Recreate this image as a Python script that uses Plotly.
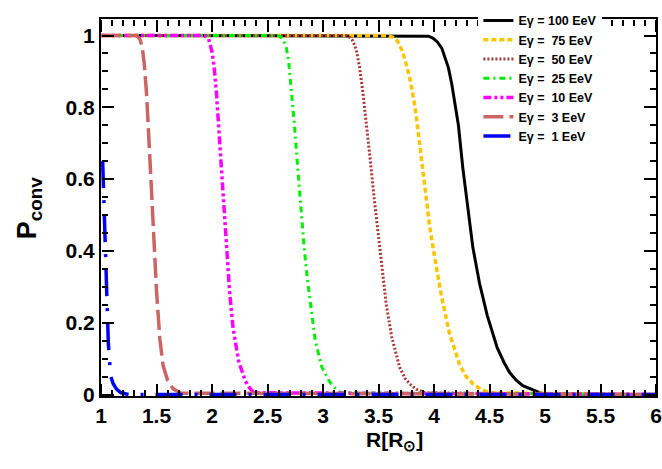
import plotly.graph_objects as go

# ---- data ----
labels = ["Eγ = 100 EeV", "Eγ =\u00a0 75 EeV", "Eγ =\u00a0 50 EeV", "Eγ =\u00a0 25 EeV",
          "Eγ =\u00a0 10 EeV", "Eγ =\u00a0 3 EeV", "Eγ =\u00a0 1 EeV"]

r_100 = [1.0, 3.90, 3.95, 3.99, 4.03, 4.07, 4.10, 4.13, 4.16, 4.19, 4.22, 4.26, 4.31, 4.35, 4.41, 4.48, 4.57, 4.63, 4.68, 4.74, 4.80, 4.87, 4.93, 5.0, 6.0]
p_100 = [1.0, 1.0, 0.998, 0.993, 0.982, 0.965, 0.94, 0.91, 0.865, 0.81, 0.75, 0.63, 0.50, 0.41, 0.31, 0.22, 0.13, 0.09, 0.062, 0.04, 0.025, 0.015, 0.008, 0.0, 0.0]

r_75 = [1.0, 3.58, 3.63, 3.67, 3.71, 3.75, 3.79, 3.83, 3.87, 3.92, 3.96, 4.01, 4.07, 4.14, 4.23, 4.29, 4.35, 4.42, 4.50, 6.0]
p_75 = [1.0, 1.0, 0.995, 0.985, 0.96, 0.92, 0.87, 0.80, 0.70, 0.58, 0.47, 0.375, 0.27, 0.17, 0.084, 0.05, 0.03, 0.015, 0.005, 0.0]

r_50 = [1.0, 3.20, 3.24, 3.27, 3.30, 3.33, 3.36, 3.39, 3.42, 3.46, 3.50, 3.53, 3.57, 3.62, 3.69, 3.74, 3.78, 3.84, 3.92, 6.0]
p_50 = [1.0, 1.0, 0.995, 0.985, 0.96, 0.91, 0.84, 0.76, 0.67, 0.55, 0.445, 0.35, 0.25, 0.16, 0.076, 0.045, 0.03, 0.015, 0.005, 0.0]

r_25 = [1.0, 2.60, 2.64, 2.67, 2.69, 2.71, 2.74, 2.77, 2.80, 2.83, 2.86, 2.89, 2.93, 2.99, 3.06, 3.11, 3.16, 6.0]
p_25 = [1.0, 1.0, 0.99, 0.965, 0.93, 0.87, 0.76, 0.64, 0.52, 0.41, 0.32, 0.24, 0.15, 0.076, 0.035, 0.018, 0.005, 0.0]

r_10 = [1.0, 1.93, 1.97, 2.00, 2.02, 2.04, 2.07, 2.10, 2.13, 2.16, 2.19, 2.24, 2.30, 2.34, 2.38, 6.0]
p_10 = [1.0, 1.0, 0.99, 0.955, 0.91, 0.84, 0.70, 0.55, 0.40, 0.28, 0.185, 0.093, 0.038, 0.018, 0.005, 0.0]

r_3 = [1.0, 1.32, 1.35, 1.37, 1.39, 1.41, 1.44, 1.47, 1.50, 1.53, 1.56, 1.60, 1.65, 1.72, 6.0]
p_3 = [1.0, 1.0, 0.99, 0.97, 0.92, 0.84, 0.66, 0.47, 0.29, 0.155, 0.08, 0.04, 0.016, 0.004, 0.0]

r_1 = [1.015, 1.036, 1.066, 1.087, 1.11, 1.14, 1.18, 1.25, 6.0]
p_1 = [0.65, 0.415, 0.143, 0.052, 0.03, 0.015, 0.005, 0.0, 0.0]

x_ticks = [1, 1.5, 2, 2.5, 3, 3.5, 4, 4.5, 5, 5.5, 6]
x_ticktext = ["1", "1.5", "2", "2.5", "3", "3.5", "4", "4.5", "5", "5.5", "6"]
y_ticks = [0, 0.2, 0.4, 0.6, 0.8, 1]
y_ticktext = ["0", "0.2", "0.4", "0.6", "0.8", "1"]

x_range = [1, 6]
y_range = [-0.004, 1.046]

series = [
    (r_100, p_100, "#000000", "solid", 3),
    (r_75, p_75, "#ffc400", "5px,3px", 3.5),
    (r_50, p_50, "#b03535", "2px,2px", 3),
    (r_25, p_25, "#00ee00", "6px,4px,2px,4px", 3),
    (r_10, p_10, "#ff00ff", "8px,3px,3px,3px,3px,3px", 3.5),
    (r_3, p_3, "#cd6464", "20px,6px", 3.5),
    (r_1, p_1, "#0000ff", "27px,12px,3px,12px", 3.5),
]

fig = go.Figure()
for (xs, ys, col, dash, w), name in zip(series, labels):
    fig.add_trace(go.Scatter(x=xs, y=ys, mode="lines", name=name,
                             line=dict(color=col, dash=dash, width=w)))
# empty traces that carry the tick-only overlay axes (ticks pointing into the frame)
for xa, ya in (("x2", "y2"), ("x3", "y3")):
    fig.add_trace(go.Scatter(x=[], y=[], xaxis=xa, yaxis=ya, showlegend=False,
                             hoverinfo="skip"))

font_fam = "Liberation Sans, Arial, sans-serif"
tickfont = dict(family=font_fam, size=21, color="black", weight="bold")


def tick_axis(rng, vals, minor_dtick, minor_tick0, **kw):
    return dict(range=rng, tickmode="array", tickvals=vals, ticks="outside", ticklen=12,
                tickwidth=2, tickcolor="black", showticklabels=False, showline=False,
                showgrid=False, zeroline=False, anchor="free",
                minor=dict(tick0=minor_tick0, dtick=minor_dtick, ticks="outside", ticklen=6,
                           tickwidth=2, tickcolor="black", showgrid=False),
                **kw)


fig.update_layout(
    template="none",
    width=662, height=469,
    margin=dict(l=101, r=6, t=11, b=73),
    paper_bgcolor="white", plot_bgcolor="white",
    showlegend=True,
    legend=dict(x=0.68, y=1.035, xanchor="left", yanchor="top",
                bgcolor="white",
                font=dict(family=font_fam, size=12.5, color="black", weight="bold"),
                tracegroupgap=0),
    xaxis=dict(range=x_range, tickmode="array", tickvals=x_ticks, ticktext=x_ticktext,
               ticks="", showline=True, linecolor="black", linewidth=2, mirror=True,
               showgrid=False, zeroline=False, tickfont=tickfont),
    yaxis=dict(range=y_range, tickmode="array", tickvals=y_ticks, ticktext=y_ticktext,
               ticks="", showline=True, linecolor="black", linewidth=2, mirror=True,
               showgrid=False, zeroline=False, tickfont=tickfont),
    # bottom edge, ticks pointing up
    xaxis2=tick_axis(x_range, x_ticks, 0.1, 1, overlaying="x", side="top", position=0),
    # top edge, ticks pointing down
    xaxis3=tick_axis(x_range, x_ticks, 0.1, 1, overlaying="x", side="bottom", position=1),
    # left edge, ticks pointing right
    yaxis2=tick_axis(y_range, y_ticks, 0.05, 0, overlaying="y", side="right", position=0),
    # right edge, ticks pointing left
    yaxis3=tick_axis(y_range, y_ticks, 0.05, 0, overlaying="y", side="left", position=1),
    annotations=[
        dict(text="<b>R[R<sub>⊙</sub>]</b>", xref="paper", yref="paper", x=0.528, y=-0.08,
             xanchor="center", yanchor="top", showarrow=False,
             font=dict(family=font_fam, size=21, color="black")),
        dict(text="<b>P<sub>conv</sub></b>", xref="paper", yref="paper", x=-0.13, y=0.5,
             xanchor="center", yanchor="middle", showarrow=False, textangle=-90,
             font=dict(family=font_fam, size=27, color="black")),
    ],
)

fig.write_html("out.html", config={"displayModeBar": False},
               post_script="document.body.style.margin='0px';")
